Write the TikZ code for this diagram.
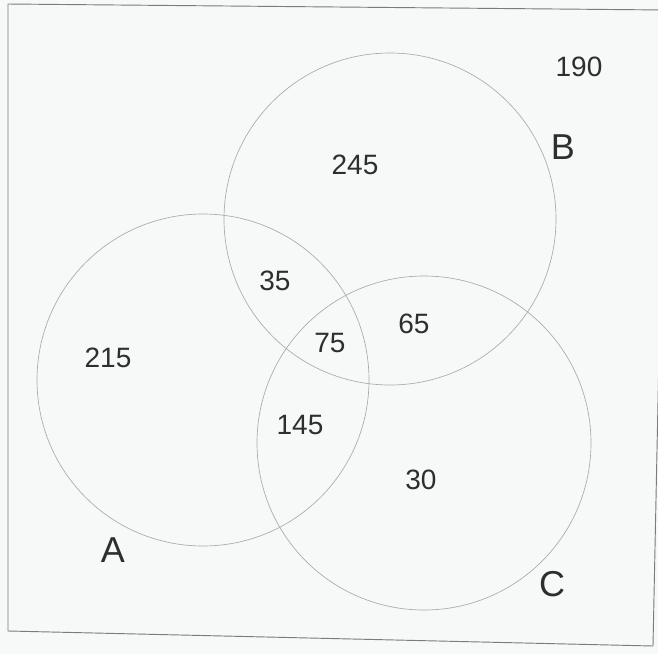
\documentclass[tikz,border=0pt]{standalone}
\usepackage{fontspec}
\setmainfont{Liberation Sans}
\usepackage{tikz}
\definecolor{paper}{HTML}{F7F9F8}
\definecolor{pencil}{HTML}{A9ABAA}
\definecolor{frameline}{HTML}{7A7C7B}
\definecolor{ink}{HTML}{2E2E2E}

\begin{document}
\begin{tikzpicture}[x=0.75pt,y=-0.75pt]
\tikzstyle{ring}=[draw=pencil,line width=0.5pt]
\tikzstyle{num}=[text=ink,inner sep=0pt,font=\fontsize{21}{24}\selectfont]
\tikzstyle{setname}=[text=ink,inner sep=0pt,font=\fontsize{27}{30}\selectfont]
\fill[paper] (0,0) rectangle (658,654);
\useasboundingbox (0,0) rectangle (658,654);
\draw[frameline,line width=0.7pt] (8,4) -- (666,10) -- (653,646) -- (8,631) -- cycle;
\draw[ring] (203,380) circle[radius=124.5pt];
\draw[ring] (390,219) circle[radius=124.5pt];
\draw[ring] (424,443) circle[radius=125.25pt];
\node[num] (outside) at (579,67) {190};
\node[num] (onlyB) at (355,165) {245};
\node[num] (AB) at (275,281) {35};
\node[num] (ABC) at (330,343) {75};
\node[num] (BC) at (414,324) {65};
\node[num] (onlyA) at (108,358) {215};
\node[num] (AC) at (300,425) {145};
\node[num] (onlyC) at (421,480) {30};
\node[setname] (nameA) at (113,550) {A};
\node[setname] (nameB) at (563,147) {B};
\node[setname] (nameC) at (552,584) {C};
\end{tikzpicture}
\end{document}
